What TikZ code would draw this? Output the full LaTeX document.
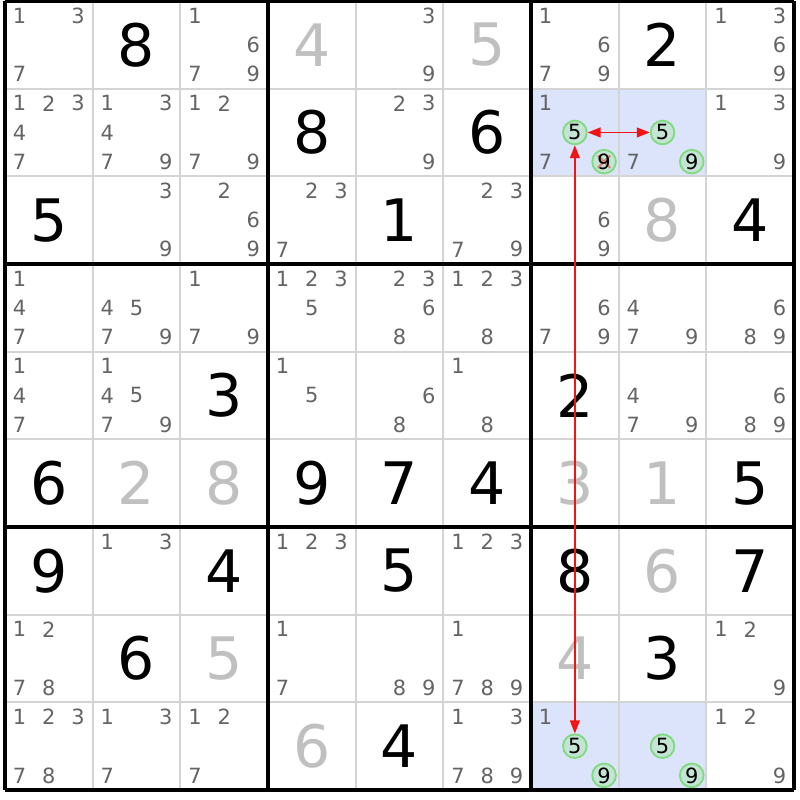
\documentclass[tikz,border=0pt]{standalone}
\usepackage{fontspec}
\setmainfont{DejaVu Sans}
\usetikzlibrary{arrows.meta}
\definecolor{candgray}{RGB}{100,100,100}
\definecolor{solvedgray}{RGB}{192,192,192}
\definecolor{gridgray}{RGB}{212,212,212}
\definecolor{cellblue}{RGB}{220,228,251}
\definecolor{ringgreen}{RGB}{128,218,128}
\definecolor{ringfill}{RGB}{196,228,212}
\definecolor{linkred}{RGB}{240,20,20}

\begin{document}
\begin{tikzpicture}
    [
        x=1cm, y=1cm,
        cand/.style={text=candgray, font=\fontsize{6.8}{6.8}\selectfont, inner sep=0pt},
        given/.style={text=black, font=\fontsize{19}{19}\selectfont, inner sep=0pt},
        solved/.style={given, text=solvedgray},
        ring/.style={circle, draw=ringgreen, fill=ringfill, line width=0.6pt, minimum size=0.27cm, inner sep=0pt, text=black, font=\fontsize{6.8}{6.8}\selectfont},
        crossed/.style={path picture={\draw[linkred, opacity=0.45, line width=0.7pt] ([shift={(-0.07,-0.07)}]path picture bounding box.center) -- ([shift={(0.07,0.07)}]path picture bounding box.center) ([shift={(-0.07,0.07)}]path picture bounding box.center) -- ([shift={(0.07,-0.07)}]path picture bounding box.center) ;}},
        thin_line/.style={draw=gridgray, line width=0.6pt},
        thick_line/.style={draw=black, line width=1.1pt},
        link/.style={<->, >={Triangle[length=4.2pt, width=3.2pt]}, draw=linkred, line width=0.45pt},
    ]
        \useasboundingbox (-0.057,0.011) rectangle (9.068,-9.114) ;
        \foreach \r/\c in {2/7, 2/8, 9/7, 9/8}
            \fill[cellblue] (\c-1,-\r+1) rectangle (\c,-\r) ;
        \foreach \i in {1,2,4,5,7,8} {
            \draw[thin_line] (\i,0) -- (\i,-9) ;
            \draw[thin_line] (0,-\i) -- (9,-\i) ;
        }
        \foreach \i in {0,3,6,9} {
            \draw[thick_line] (\i,0) -- (\i,-9) ;
            \draw[thick_line] (0,-\i) -- (9,-\i) ;
        }
        \foreach \r/\c/\v in {1/2/8, 1/8/2, 2/4/8, 2/6/6, 3/1/5, 3/5/1, 3/9/4, 5/3/3, 5/7/2, 6/1/6, 6/4/9, 6/5/7, 6/6/4, 6/9/5, 7/1/9, 7/3/4, 7/5/5, 7/7/8, 7/9/7, 8/2/6, 8/8/3, 9/5/4}
            \node[given] (g\r\c) at (\c-0.5,-\r+0.5) {\v} ;
        \foreach \r/\c/\v in {1/4/4, 1/6/5, 3/8/8, 6/2/2, 6/3/8, 6/7/3, 6/8/1, 7/8/6, 8/3/5, 8/7/4, 9/4/6}
            \node[solved] (g\r\c) at (\c-0.5,-\r+0.5) {\v} ;
        \foreach \r/\c/\cands in {1/1/{1,3,7}, 1/3/{1,6,7,9}, 1/5/{3,9}, 1/7/{1,6,7,9}, 1/9/{1,3,6,9},
                2/1/{1,2,3,4,7}, 2/2/{1,3,4,7,9}, 2/3/{1,2,7,9}, 2/5/{2,3,9}, 2/7/{1,7}, 2/8/{7}, 2/9/{1,3,9},
                3/2/{3,9}, 3/3/{2,6,9}, 3/4/{2,3,7}, 3/6/{2,3,7,9}, 3/7/{6,9},
                4/1/{1,4,7}, 4/2/{4,5,7,9}, 4/3/{1,7,9}, 4/4/{1,2,3,5}, 4/5/{2,3,6,8}, 4/6/{1,2,3,8}, 4/7/{6,7,9}, 4/8/{4,7,9}, 4/9/{6,8,9},
                5/1/{1,4,7}, 5/2/{1,4,5,7,9}, 5/4/{1,5}, 5/5/{6,8}, 5/6/{1,8}, 5/8/{4,7,9}, 5/9/{6,8,9},
                7/2/{1,3}, 7/4/{1,2,3}, 7/6/{1,2,3},
                8/1/{1,2,7,8}, 8/4/{1,7}, 8/5/{8,9}, 8/6/{1,7,8,9}, 8/9/{1,2,9},
                9/1/{1,2,3,7,8}, 9/2/{1,3,7}, 9/3/{1,2,7}, 9/6/{1,3,7,8,9}, 9/7/{1}, 9/9/{1,2,9}}
            \foreach \k in \cands
                \node[cand] (c\r\c-\k) at ({\c-0.5+(mod(\k-1,3)-1)/3}, {-\r+0.5-(div(\k-1,3)-1)/3}) {\k} ;
        \node[ring] (c27-5) at (6.5,-1.5) {5} ;
        \node[ring, crossed] (c27-9) at (6.833,-1.833) {9} ;
        \node[ring] (c28-5) at (7.5,-1.5) {5} ;
        \node[ring] (c28-9) at (7.833,-1.833) {9} ;
        \node[ring] (c97-5) at (6.5,-8.5) {5} ;
        \node[ring] (c97-9) at (6.833,-8.833) {9} ;
        \node[ring] (c98-5) at (7.5,-8.5) {5} ;
        \node[ring] (c98-9) at (7.833,-8.833) {9} ;
        \draw[link] (c27-5) -- (c28-5) ;
        \draw[link] (c27-5) -- (c97-5) ;
\end{tikzpicture}
\end{document}
